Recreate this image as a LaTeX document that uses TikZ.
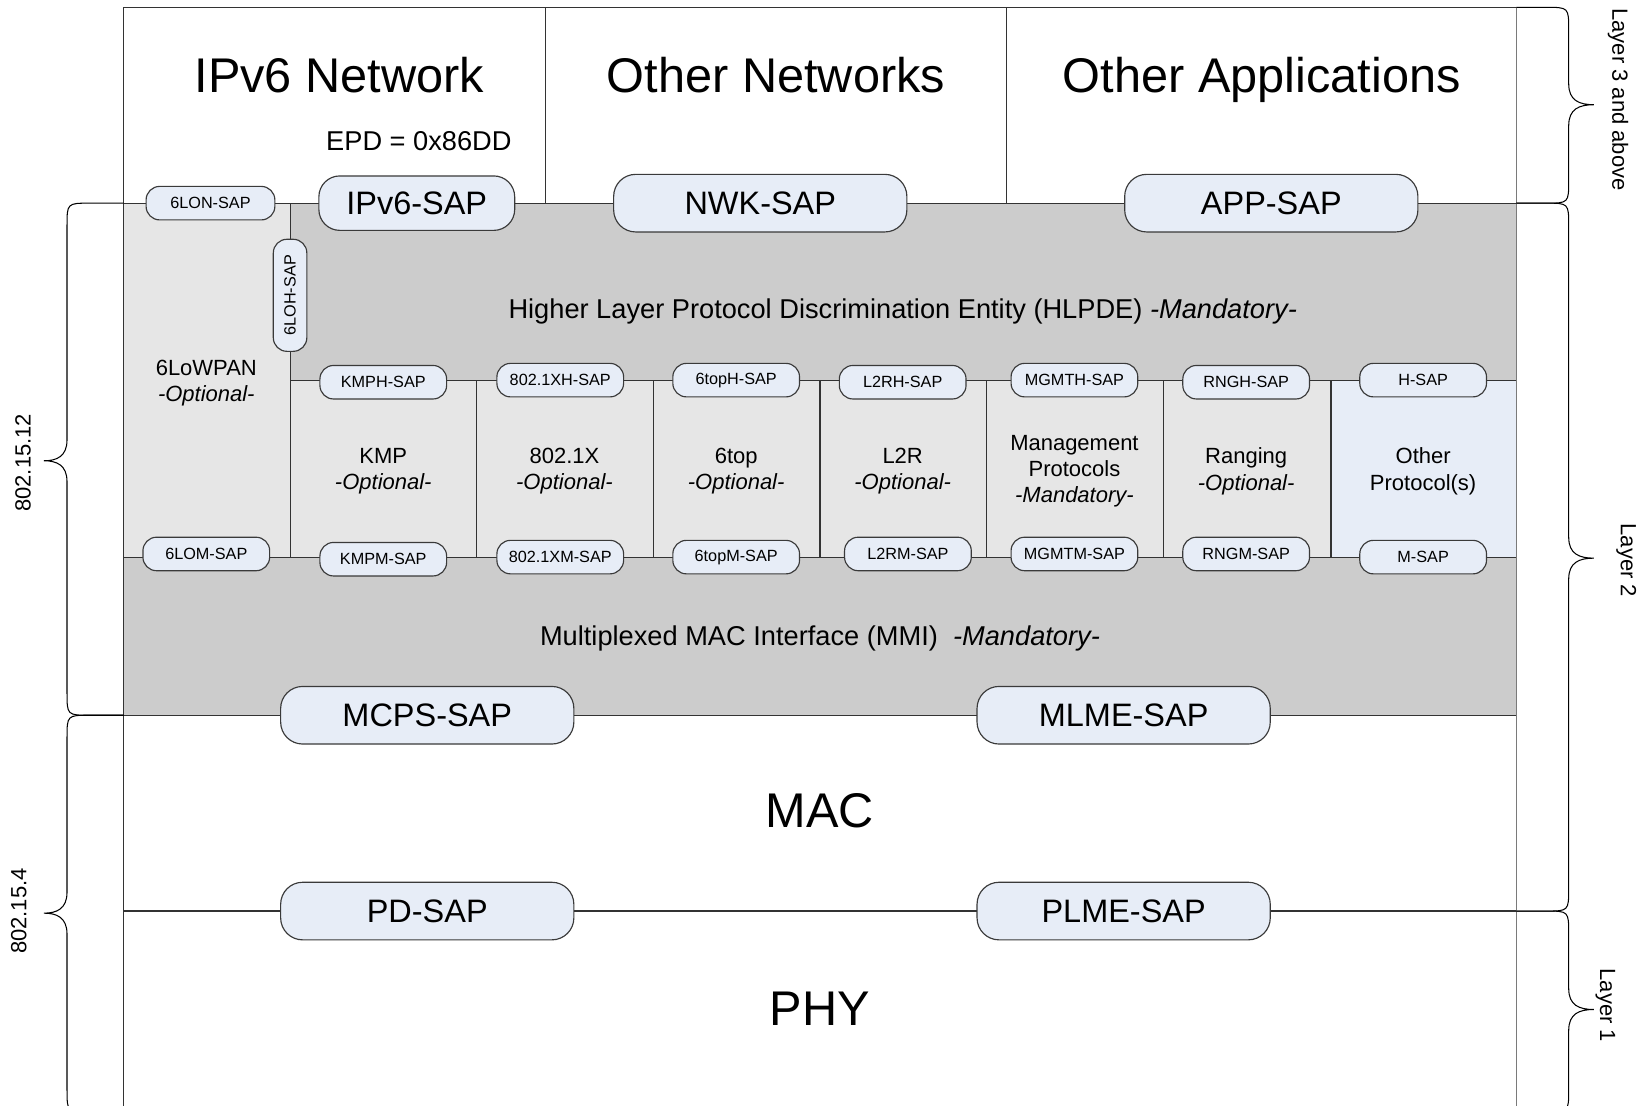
\documentclass[tikz,border=0pt]{standalone}
\usepackage{fontspec}
\setmainfont{Liberation Sans}
\usetikzlibrary{positioning}

\definecolor{hlgray}{HTML}{CCCCCC}
\definecolor{colgray}{HTML}{E6E6E6}
\definecolor{sapfill}{HTML}{E7EDF7}
\definecolor{sapline}{HTML}{3A3A3A}
\definecolor{frameline}{HTML}{333333}
\definecolor{edgegray}{HTML}{7A7A7A}

\tikzset{
  boxline/.style={draw=frameline, line width=1.1pt},
  braceline/.style={draw=black, line width=1pt},
  sap/.style={draw=sapline, fill=sapfill, line width=1.1pt, inner sep=0pt},
  sapbig/.style={sap, minimum width=280pt, minimum height=55pt, rounded corners=21pt,
    font=\fontsize{31}{31}\selectfont},
  sapsmall/.style={sap, minimum width=121pt, minimum height=32pt, rounded corners=13pt,
    font=\fontsize{15.5}{15.5}\selectfont},
  bigtext/.style={font=\fontsize{46.5}{50}\selectfont},
  midtext/.style={font=\fontsize{26}{30}\selectfont},
  coltext/.style={align=center, font=\fontsize{21}{25}\selectfont},
  sidetext/.style={font=\fontsize{21}{21}\selectfont}
}

% right hand brace: top, bottom, tip
\newcommand{\layerbrace}[3]{%
  \draw[braceline] (1448,#1) -- (1476,#1) .. controls (1498,#1) .. (1498,#1+22)
    -- (1498,#3-20) .. controls (1498,#3-4) and (1508,#3) .. (1522,#3)
    .. controls (1508,#3) and (1498,#3+4) .. (1498,#3+20)
    -- (1498,#2-22) .. controls (1498,#2) .. (1476,#2) -- (1448,#2);}
% left hand brace: top, bottom, tip
\newcommand{\stdbrace}[3]{%
  \draw[braceline] (118,#1) -- (86,#1) .. controls (64,#1) .. (64,#1+22)
    -- (64,#3-20) .. controls (64,#3-4) and (54,#3) .. (42,#3)
    .. controls (54,#3) and (64,#3+4) .. (64,#3+20)
    -- (64,#2-22) .. controls (64,#2) .. (86,#2) -- (118,#2);}

\begin{document}
\begin{tikzpicture}[x=1pt, y=-1pt]
    \clip (0,0) rectangle (1568,1056);
    \fill[white] (0,0) rectangle (1568,1056);

    % shaded areas
    \fill[hlgray] (277,194) rectangle (1448,363);
    \fill[colgray] (118,194) rectangle (277,532);
    \fill[colgray] (277,363) rectangle (1271,532);
    \fill[sapfill] (1271,363) rectangle (1448,532);
    \fill[hlgray] (118,532) rectangle (1448,683);

    % frame and layer lines
    \draw[boxline] (118,1062) -- (118,7) -- (1448,7);
    \draw[boxline, draw=edgegray] (1448,7) -- (1448,1062);
    \draw[boxline] (521,7) -- (521,194);
    \draw[boxline] (961,7) -- (961,194);
    \draw[boxline] (118,194) -- (1448,194);
    \draw[boxline] (277,194) -- (277,532);
    \draw[boxline] (277,363) -- (1448,363);
    \draw[boxline] (118,532) -- (1448,532);
    \draw[boxline] (118,683) -- (1448,683);
    \draw[boxline] (118,870) -- (1448,870);

    % protocol columns
    \draw[boxline] (455,363) -- (455,532);
    \draw[boxline] (624,363) -- (624,532);
    \draw[boxline] (783,363) -- (783,532);
    \draw[boxline] (942,363) -- (942,532);
    \draw[boxline] (1111,363) -- (1111,532);
    \draw[boxline] (1271,363) -- (1271,532);

    % braces
    \layerbrace{7}{194}{100}
    \layerbrace{194}{870}{533}
    \layerbrace{870}{1062}{964}
    \stdbrace{194}{683}{440}
    \stdbrace{683}{1062}{872}

    \node[sidetext, rotate=-90] (lthree) at (1545,95) {Layer 3 and above};
    \node[sidetext, rotate=-90] (ltwo) at (1553,535) {Layer 2};
    \node[sidetext, rotate=-90] (lone) at (1533,960) {Layer 1};
    \node[sidetext, rotate=90] (stdtwelve) at (22,442) {802.15.12};
    \node[sidetext, rotate=90] (stdfour) at (18,870) {802.15.4};

    % layer 3 and above
    \node[bigtext, anchor=base] (ipvsix) at (324,88) {IPv6 Network};
    \node[bigtext, anchor=base] (othnet) at (741,88) {Other Networks};
    \node[bigtext, anchor=base] (othapp) at (1205,88) {Other Applications};
    \node[midtext] (epd) at (400,135) {EPD = 0x86DD};

    \node[sap, minimum width=123pt, minimum height=32pt, rounded corners=13pt,
      font=\fontsize{15.5}{15.5}\selectfont] (sixlon) at (201,194) {6LON-SAP};
    \node[sap, minimum width=187pt, minimum height=52pt, rounded corners=20pt,
      font=\fontsize{31}{31}\selectfont] (ipvsixsap) at (398,194) {IPv6-SAP};
    \node[sapbig] (nwksap) at (726,194) {NWK-SAP};
    \node[sapbig] (appsap) at (1214,194) {APP-SAP};

    % HLPDE and 6LoWPAN
    \node[midtext] (hlpde) at (862,297) {Higher Layer Protocol Discrimination Entity (HLPDE) \textit{-Mandatory-}};
    \node[sapsmall, rotate=90, minimum width=107pt] (sixloh) at (277,282) {6LOH-SAP};
    \node[coltext] (sixlowpan) at (197,366) {6LoWPAN\\\textit{-Optional-}};

    % protocol column texts
    \node[coltext] (kmp) at (366,450) {KMP\\\textit{-Optional-}};
    \node[coltext] (dotx) at (539,450) {802.1X\\\textit{-Optional-}};
    \node[coltext] (sixtop) at (703,450) {6top\\\textit{-Optional-}};
    \node[coltext] (ltwor) at (862,450) {L2R\\\textit{-Optional-}};
    \node[coltext] (mgmt) at (1026,450) {Management\\Protocols\\\textit{-Mandatory-}};
    \node[coltext] (rng) at (1190,450) {Ranging\\\textit{-Optional-}};
    \node[coltext] (othprot) at (1359,450) {Other\\Protocol(s)};

    % upper SAPs of the protocols
    \node[sapsmall] (kmph) at (366,365) {KMPH-SAP};
    \node[sapsmall] (dotxh) at (535,363) {802.1XH-SAP};
    \node[sapsmall] (sixtoph) at (703,363) {6topH-SAP};
    \node[sapsmall] (ltworh) at (862,365) {L2RH-SAP};
    \node[sapsmall] (mgmth) at (1026,363) {MGMTH-SAP};
    \node[sapsmall] (rngh) at (1190,365) {RNGH-SAP};
    \node[sapsmall] (hsap) at (1359,363) {H-SAP};

    % lower SAPs of the protocols
    \node[sapsmall] (sixlom) at (197,529) {6LOM-SAP};
    \node[sapsmall] (kmpm) at (366,534) {KMPM-SAP};
    \node[sapsmall] (dotxm) at (535,532) {802.1XM-SAP};
    \node[sapsmall] (sixtopm) at (703,532) {6topM-SAP};
    \node[sapsmall] (ltworm) at (867,529) {L2RM-SAP};
    \node[sapsmall] (mgmtm) at (1026,529) {MGMTM-SAP};
    \node[sapsmall] (rngm) at (1190,529) {RNGM-SAP};
    \node[sapsmall] (msap) at (1359,532) {M-SAP};

    % MMI, MAC and PHY
    \node[midtext] (mmi) at (783,610) {Multiplexed MAC Interface (MMI) \ \textit{-Mandatory-}};
    \node[sapbig] (mcps) at (408,683) {MCPS-SAP};
    \node[sapbig] (mlme) at (1073,683) {MLME-SAP};
    \node[bigtext] (mac) at (783,774) {MAC};
    \node[sapbig] (pdsap) at (408,870) {PD-SAP};
    \node[sapbig] (plme) at (1073,870) {PLME-SAP};
    \node[bigtext] (phy) at (783,963) {PHY};

\end{tikzpicture}
\end{document}
